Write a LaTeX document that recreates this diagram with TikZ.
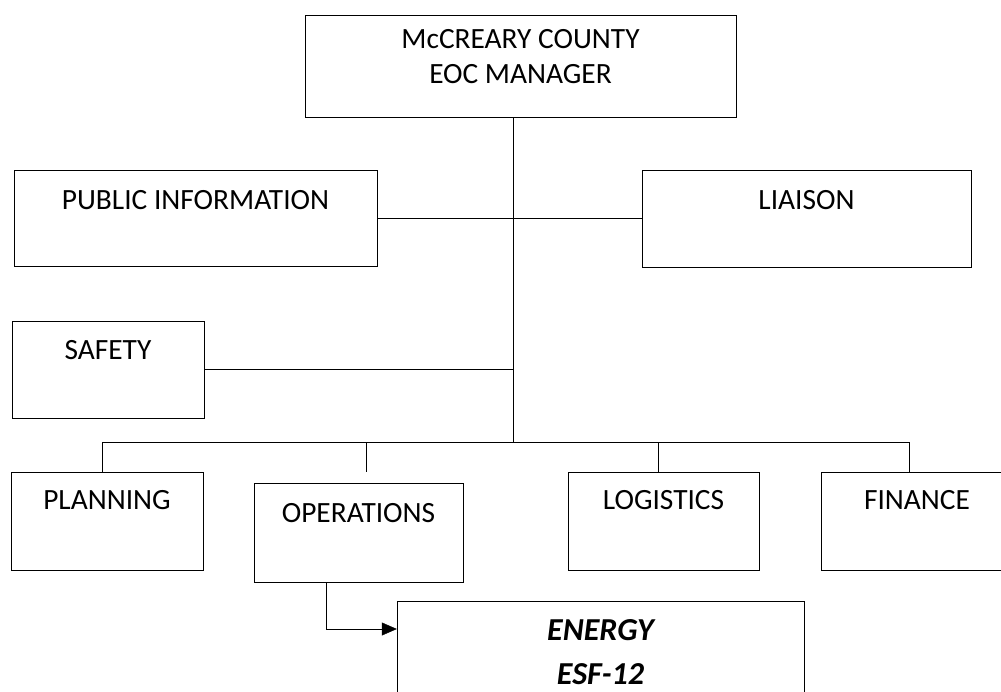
\documentclass[tikz,border=0pt]{standalone}
\usepackage{fontspec}
\setmainfont{Carlito}
\usetikzlibrary{arrows.meta,positioning}
\tikzset{>={Triangle[length=15pt,width=13pt]},line width=2pt}
\tikzset{unit/.style={draw,rectangle,inner sep=0pt,minimum height=98pt}}
\tikzset{unittext/.style={inner sep=0pt,anchor=base,font=\fontsize{29.4}{35}\selectfont}}

\begin{document}
\begin{tikzpicture}[x=1pt,y=-1pt]
                \useasboundingbox (0,0) rectangle (1001,692);
                \node[unit,minimum width=431pt,minimum height=102pt] (mgr) at (520.5,66) {};
                \node[unit,minimum width=363pt,minimum height=96pt] (pubinfo) at (195.5,218.5) {};
                \node[unit,minimum width=329pt,minimum height=97pt] (liaison) at (806.5,218.5) {};
                \node[unit,minimum width=192pt,minimum height=97pt] (safety) at (108,369.5) {};
                \node[unit,minimum width=192pt] (planning) at (107,521) {};
                \node[unit,minimum width=209pt,minimum height=99pt] (ops) at (358.5,532.5) {};
                \node[unit,minimum width=191pt] (logistics) at (663.5,521) {};
                \node[unit,minimum width=192pt] (finance) at (917,521) {};
                \node[unit,minimum width=407pt,minimum height=129pt] (energy) at (600.5,665.5) {};

                \node[unittext] (mgr1) at ([yshift=-34pt]mgr.north) {McCREARY COUNTY};
                \node[unittext] (mgr2) at ([yshift=-69pt]mgr.north) {EOC MANAGER};
                \node[unittext] (pubinfo1) at ([yshift=-39pt]pubinfo.north) {PUBLIC INFORMATION};
                \node[unittext] (liaison1) at ([yshift=-40pt]liaison.north) {LIAISON};
                \node[unittext] (safety1) at ([yshift=-39pt]safety.north) {SAFETY};
                \node[unittext] (planning1) at ([yshift=-38pt]planning.north) {PLANNING};
                \node[unittext] (ops1) at ([yshift=-40pt]ops.north) {OPERATIONS};
                \node[unittext] (logistics1) at ([yshift=-38pt]logistics.north) {LOGISTICS};
                \node[unittext] (finance1) at ([yshift=-38pt]finance.north) {FINANCE};
                \node[unittext,font=\fontsize{32}{38}\selectfont\bfseries\itshape] (energy1) at ([yshift=-40pt]energy.north) {ENERGY};
                \node[unittext,font=\fontsize{32}{38}\selectfont\bfseries\itshape] (energy2) at ([yshift=-84pt]energy.north) {ESF-12};

                \coordinate (trunk) at (513,442);
                \coordinate (busL) at (102,442);
                \coordinate (busR) at (909,442);
                \draw (mgr.south -| trunk) -- (trunk);
                \draw (pubinfo.east) -- (liaison.west);
                \draw (safety.east) -- (safety.east -| trunk);
                \draw (busL) -- (busR);
                \foreach \x in {102,366,658,909}
                    \draw (\x,442) -- (\x,442 |- planning.north);
                \draw[->] ([xshift=-32.5pt]ops.south) |- ([yshift=36.5pt]energy.west);
            \end{tikzpicture}
\end{document}
